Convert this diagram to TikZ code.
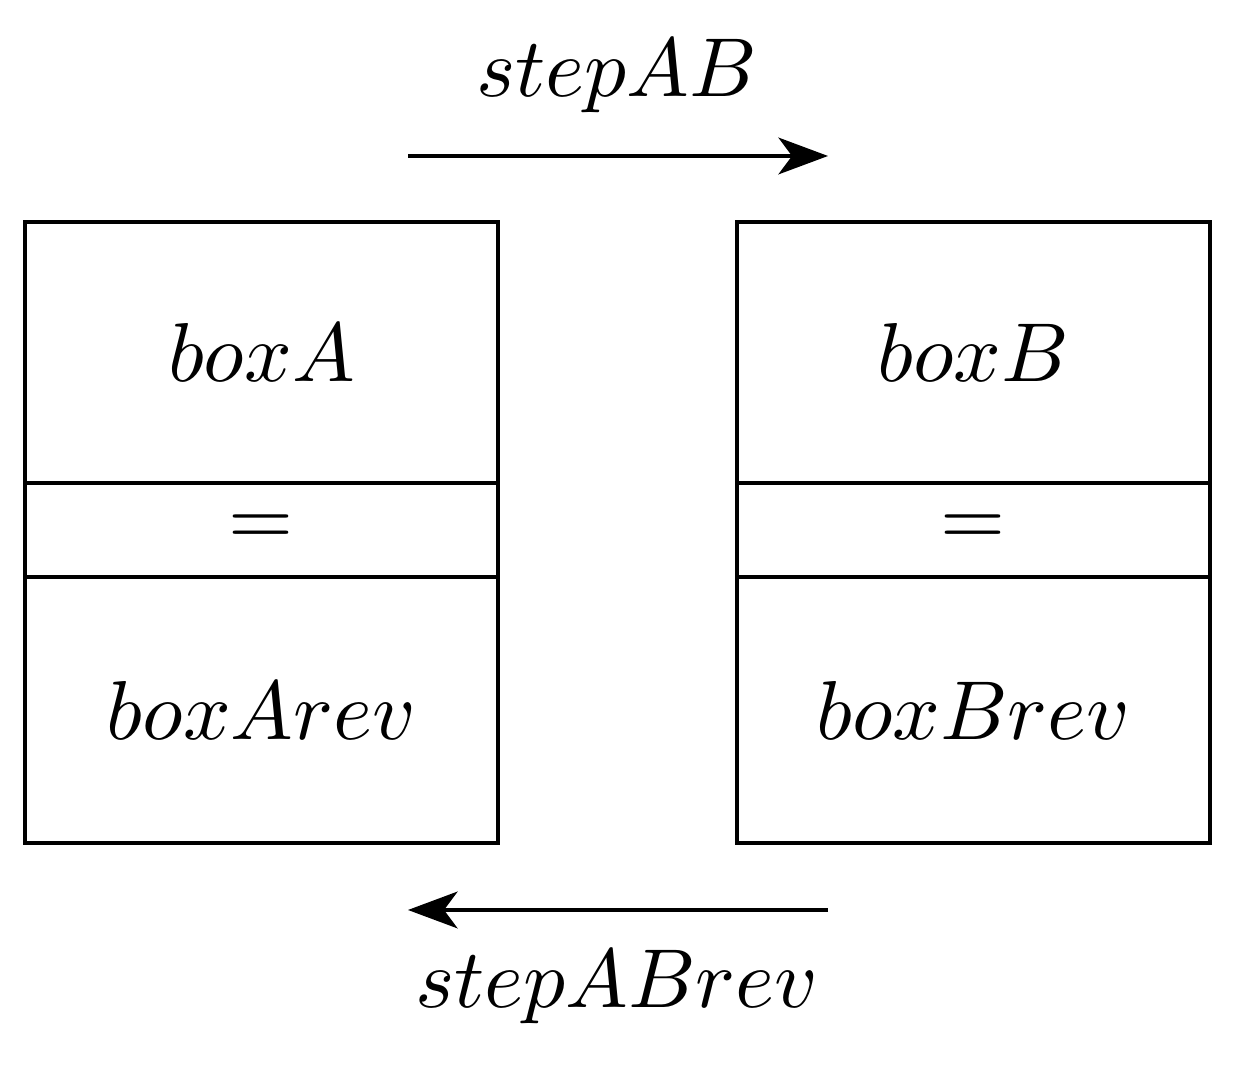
\documentclass[tikz,border=0pt]{standalone}
\usepackage{graphicx}
\usetikzlibrary{arrows.meta}
\newcommand{\mtxt}[1]{\scalebox{1.045}{$#1$}}
\begin{document}
\begin{tikzpicture}[x=0.125pt,y=-0.125pt,
  part/.style={draw,line width=0.4pt,minimum width=473*0.125pt,inner sep=0pt,outer sep=0pt},
  conn/.style={line width=0.4pt,-{Stealth[length=6.2pt,width=4.6pt,inset=1.7pt]}},
  lbl/.style={inner sep=0pt}]
\useasboundingbox (0,0) rectangle (1235,1066);
% left stack
\node[part,minimum height=261*0.125pt] (boxA) at (261.5,352.5) {\mtxt{boxA}};
\node[part,minimum height=94*0.125pt] (eqA) at (261.5,530) {\mtxt{=}};
\node[part,minimum height=266*0.125pt] (revA) at (261.5,710) {\mtxt{boxArev}};
% right stack
\node[part,minimum height=261*0.125pt] (boxB) at (973.5,352.5) {\mtxt{boxB}};
\node[part,minimum height=94*0.125pt] (eqB) at (973.5,530) {\mtxt{=}};
\node[part,minimum height=266*0.125pt] (revB) at (973.5,710) {\mtxt{boxBrev}};
% arrows
\coordinate (t1) at (408,156);
\coordinate (t2) at (828,156);
\coordinate (b1) at (828,910);
\coordinate (b2) at (408,910);
\draw[conn] (t1) -- (t2);
\draw[conn] (b1) -- (b2);
\node[lbl,anchor=base] (lab1) at (617,97) {\mtxt{stepAB}};
\node[lbl,anchor=base] (lab2) at (617,1008) {\mtxt{stepABrev}};
\end{tikzpicture}
\end{document}
